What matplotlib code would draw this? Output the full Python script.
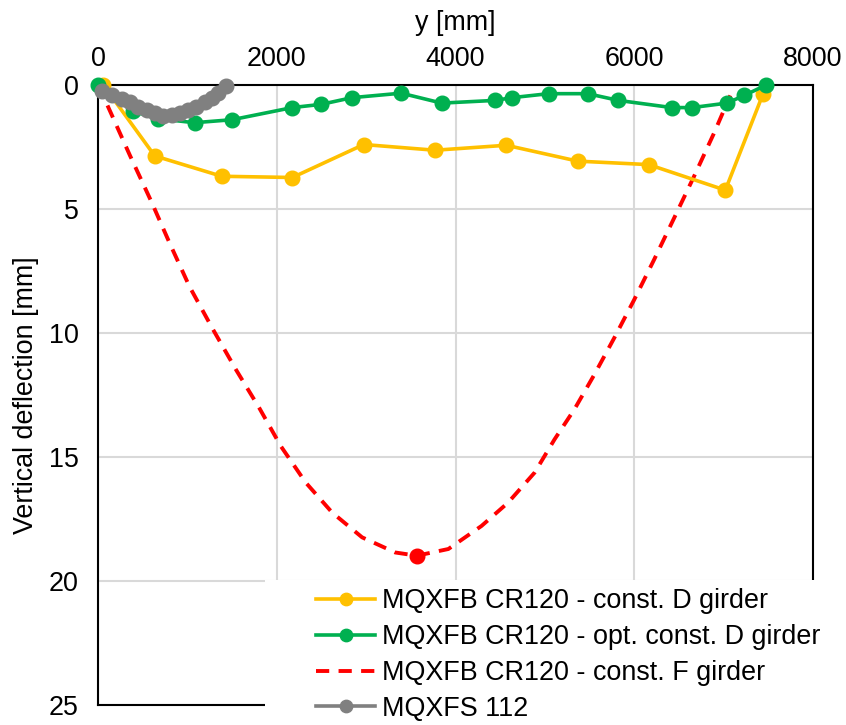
import matplotlib
matplotlib.use("Agg")
import matplotlib.pyplot as plt
from matplotlib.patches import Rectangle

plt.rcParams["font.family"] = ["Liberation Sans", "DejaVu Sans"]

# --- data ---
d_girder_y = [60, 635, 1384, 2175, 2973, 3771, 4569, 5367, 6162, 7019, 7439]
d_girder_v = [0.0, 2.86, 3.68, 3.73, 2.40, 2.63, 2.43, 3.07, 3.21, 4.24, 0.38]

opt_girder_y = [0, 393, 672, 1080, 1500, 2175, 2498, 2843, 3393, 3846, 4447, 4633,
                5041, 5479, 5821, 6418, 6648, 7038, 7231, 7476]
opt_girder_v = [0.0, 1.06, 1.36, 1.52, 1.40, 0.91, 0.78, 0.51, 0.33, 0.73, 0.62, 0.51,
                0.35, 0.35, 0.62, 0.91, 0.91, 0.73, 0.42, 0.0]

f_girder_y = [0, 97, 356, 598, 802, 1024, 1284, 1544, 1804, 2045, 2324, 2620, 2955,
              3326, 3567, 3920, 4291, 4588, 4885, 5108, 5330, 5553, 5776, 5999, 6221,
              6444, 6667, 6890, 7075]
f_girder_v = [0.0, 0.75, 2.83, 4.71, 6.38, 8.13, 9.84, 11.48, 13.02, 14.56, 16.03, 17.24,
              18.24, 18.85, 18.98, 18.71, 17.78, 16.84, 15.63, 14.29, 13.08, 11.68, 10.2,
              8.66, 7.05, 5.38, 3.70, 1.96, 0.42]
f_girder_max = (3567, 18.98)

mqxfs_y = [40, 156, 267, 360, 453, 546, 638, 731, 824, 917, 1010, 1102, 1195, 1270,
           1344, 1437]
mqxfs_v = [0.25, 0.41, 0.57, 0.70, 0.87, 1.01, 1.14, 1.23, 1.21, 1.14, 1.01, 0.87,
           0.70, 0.54, 0.34, 0.05]

labels = ["MQXFB CR120 - const. D girder",
          "MQXFB CR120 - opt. const. D girder",
          "MQXFB CR120 - const. F girder",
          "MQXFS 112"]

YEL, GRN, RED, GRY = "#FFC000", "#00B050", "#FF0000", "#808080"
FS = 19.4

fig = plt.figure(figsize=(8.46, 7.25), dpi=100)
ax = fig.add_axes([98 / 846, 1 - 705 / 725, (813 - 98) / 846, (705 - 85) / 725])

kw = dict(lw=2.6, marker="o", ms=10.5, clip_on=False)
h1, = ax.plot(d_girder_y, d_girder_v, color=YEL, zorder=3, **kw)
h2, = ax.plot(opt_girder_y, opt_girder_v, color=GRN, zorder=4, **kw)
h3, = ax.plot(f_girder_y, f_girder_v, color=RED, lw=2.8, dashes=(3.4, 2.4), zorder=2,
              clip_on=False)
ax.plot([f_girder_max[0]], [f_girder_max[1]], "o", color=RED, ms=10.5, zorder=2)
h4, = ax.plot(mqxfs_y, mqxfs_v, color=GRY, zorder=5, **kw)

ax.set_xlim(0, 8000)
ax.set_ylim(25, 0)
ax.set_xticks(range(0, 8001, 2000))
ax.set_yticks(range(0, 26, 5))
ax.xaxis.tick_top()
ax.xaxis.set_label_position("top")
ax.tick_params(axis="both", length=0, labelsize=FS, colors="black")
ax.tick_params(axis="x", pad=9)
ax.tick_params(axis="y", pad=14)
ax.grid(True, color="#D9D9D9", lw=1.5)
ax.set_axisbelow(True)
for s in ax.spines.values():
    s.set_color("black")
    s.set_linewidth(1.5)

ax.set_xlabel("y [mm]", fontsize=FS, labelpad=12)
ax.set_ylabel("Vertical deflection [mm]", fontsize=FS, labelpad=7)

# white legend area covering the lower right corner
fig.patches.append(Rectangle((265 / 846, 0), 1 - 265 / 846, 145 / 725,
                             transform=fig.transFigure, facecolor="white",
                             edgecolor="none", zorder=1))
fig.legend([h1, h2, h3, h4], labels, loc="upper left",
           bbox_to_anchor=(316 / 846, 1 - 588 / 725), frameon=False, fontsize=FS,
           borderpad=0, borderaxespad=0, handlelength=2.2, handletextpad=0.25,
           labelspacing=0.37, markerscale=0.85)

fig.savefig("out.png", dpi=100)
